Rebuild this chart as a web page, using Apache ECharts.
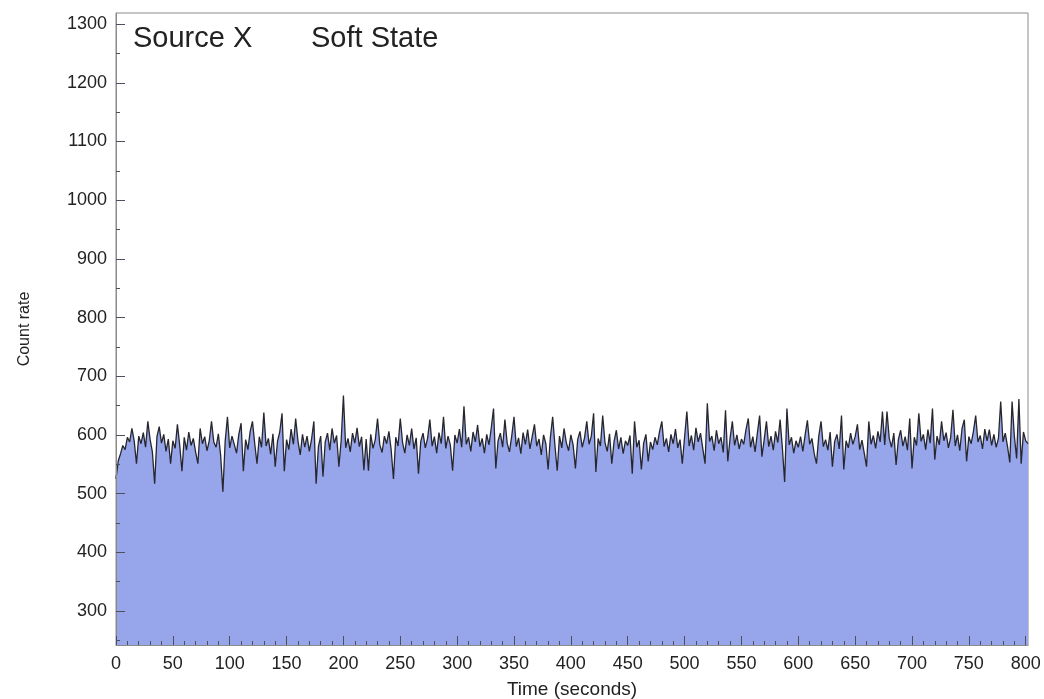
<!DOCTYPE html>
<html>
<head>
<meta charset="utf-8">
<title>Source X — Soft State light curve</title>
<script src="https://cdn.jsdelivr.net/npm/echarts@6/dist/echarts.min.js"></script>
<style>
  html, body { margin: 0; padding: 0; background: #fff; }
  #chart { width: 1044px; height: 699px; }
</style>
</head>
<body>
<div id="chart"></div>
<script>
// Light curve: count rate in 2-second bins, t = 0 ... 802 s
const binWidth = 2;
const countRate = [
  // 0 - 48 s
  525, 556, 568, 582, 575, 596, 588, 611, 590, 551, 598, 585, 604, 579, 623, 592, 571, 517, 597, 614, 586, 601, 572, 593, 551,
  // 50 - 98 s
  590, 577, 618, 583, 538, 596, 574, 605, 582, 594, 571, 551, 611, 585, 597, 573, 590, 623, 588, 579, 602, 566, 503, 589, 631,
  // 100 - 148 s
  578, 598, 584, 569, 601, 620, 538, 592, 575, 606, 623, 585, 551, 597, 579, 638, 581, 594, 567, 602, 546, 589, 605, 637, 538,
  // 150 - 198 s
  592, 575, 610, 584, 628, 590, 566, 601, 579, 598, 572, 593, 623, 517, 580, 598, 529, 588, 603, 574, 611, 586, 599, 546, 590,
  // 200 - 248 s
  667, 578, 594, 571, 603, 586, 612, 580, 597, 540, 593, 539, 601, 577, 592, 628, 583, 570, 598, 585, 606, 574, 525, 596, 581,
  // 250 - 298 s
  628, 587, 569, 600, 582, 611, 576, 595, 534, 589, 603, 578, 594, 626, 581, 597, 569, 604, 585, 631, 577, 598, 583, 539, 600,
  // 300 - 348 s
  586, 610, 579, 649, 584, 596, 572, 605, 588, 617, 580, 594, 569, 601, 583, 612, 645, 543, 590, 603, 579, 626, 586, 571, 598,
  // 350 - 398 s
  631, 580, 595, 568, 604, 584, 609, 576, 597, 618, 581, 593, 566, 600, 585, 541, 596, 631, 582, 539, 598, 578, 611, 587, 573,
  // 400 - 448 s
  600, 583, 543, 592, 606, 579, 595, 623, 584, 598, 637, 537, 594, 581, 633, 587, 572, 602, 551, 589, 608, 576, 596, 568, 590,
  // 450 - 498 s
  582, 599, 534, 623, 579, 591, 541, 586, 601, 555, 588, 575, 596, 583, 606, 623, 580, 594, 571, 601, 585, 610, 578, 592, 551,
  // 500 - 548 s
  596, 640, 581, 599, 574, 612, 588, 603, 577, 551, 654, 589, 598, 573, 608, 585, 596, 570, 642, 555, 594, 623, 582, 600, 576,
  // 550 - 598 s
  593, 584, 609, 628, 579, 597, 571, 603, 633, 563, 592, 623, 580, 598, 574, 606, 587, 626, 578, 520, 645, 583, 596, 569, 590,
  // 600 - 648 s
  579, 597, 572, 600, 625, 584, 594, 568, 551, 598, 623, 580, 592, 574, 605, 546, 589, 601, 576, 633, 541, 590, 578, 603, 584,
  // 650 - 698 s
  597, 618, 575, 591, 569, 546, 623, 584, 599, 577, 606, 588, 640, 583, 640, 594, 579, 603, 549, 592, 608, 581, 597, 574, 628,
  // 700 - 748 s
  543, 596, 582, 637, 589, 601, 575, 609, 586, 645, 558, 598, 583, 623, 590, 604, 578, 596, 643, 581, 600, 573, 611, 626, 555,
  // 750 - 798 s
  597, 585, 606, 633, 588, 599, 576, 610, 590, 609, 582, 601, 579, 594, 657, 588, 603, 580, 553, 657, 598, 560, 661, 551, 605,
  // 800 - 802 s
  590, 585
];

// Axis ranges and tick positions
const xRange = [0, 802];
const yRange = [242, 1319];
const xLabelTicks = [0, 50, 100, 150, 200, 250, 300, 350, 400, 450, 500, 550, 600, 650, 700, 750, 800];
const xMinorTicks = [10, 20, 30, 40, 60, 70, 80, 90, 110, 120, 130, 140, 160, 170, 180, 190,
  210, 220, 230, 240, 260, 270, 280, 290, 310, 320, 330, 340, 360, 370, 380, 390,
  410, 420, 430, 440, 460, 470, 480, 490, 510, 520, 530, 540, 560, 570, 580, 590,
  610, 620, 630, 640, 660, 670, 680, 690, 710, 720, 730, 740, 760, 770, 780, 790];
const yLabelTicks = [300, 400, 500, 600, 700, 800, 900, 1000, 1100, 1200, 1300];
const yMinorTicks = [250, 350, 450, 550, 650, 750, 850, 950, 1050, 1150, 1250];

const titleLeft = 'Source X';
const titleRight = 'Soft State';
const xName = 'Time (seconds)';
const yName = 'Count rate';

const seriesData = countRate.map((v, i) => [i * binWidth, v]);

const FONT = '"Liberation Sans", Arial, Helvetica, sans-serif';
const axisGray = '#8a8a8a';
const tickGray = '#4e4e5c';
const textColor = '#222';

const chart = echarts.init(document.getElementById('chart'), null, { renderer: 'canvas' });

// Both grids share the same box: grid 0 holds the data and major ticks,
// grid 1 only carries the short minor ticks.
const gridBox = { left: 116, right: 16, top: 13, bottom: 54 };
const plainLabel = v => String(v);

chart.setOption({
  animation: false,
  backgroundColor: '#fff',
  grid: [
    Object.assign({ show: true, borderColor: axisGray, borderWidth: 1, backgroundColor: 'transparent',
      containLabel: false, outerBoundsMode: 'none' }, gridBox),
    Object.assign({ show: false, containLabel: false, outerBoundsMode: 'none' }, gridBox)
  ],
  graphic: [
    { type: 'text', left: 133, top: 24, z: 10, style: { text: titleLeft, font: '29px ' + FONT, fill: textColor } },
    { type: 'text', left: 311, top: 24, z: 10, style: { text: titleRight, font: '29px ' + FONT, fill: textColor } }
  ],
  xAxis: [
    {
      gridIndex: 0, type: 'value', min: xRange[0], max: xRange[1],
      name: xName, nameLocation: 'middle', nameGap: 35,
      nameTextStyle: { fontFamily: FONT, fontSize: 19, color: textColor },
      axisLine: { show: true, lineStyle: { color: axisGray, width: 1 } },
      axisTick: { show: true, inside: true, length: 9, customValues: xLabelTicks, lineStyle: { color: tickGray, width: 1 } },
      axisLabel: { show: true, customValues: xLabelTicks, formatter: plainLabel, margin: 10, fontFamily: FONT, fontSize: 18, color: textColor },
      splitLine: { show: false },
      z: 5
    },
    {
      gridIndex: 1, type: 'value', min: xRange[0], max: xRange[1], position: 'bottom',
      axisLine: { show: false },
      axisTick: { show: true, inside: true, length: 4, customValues: xMinorTicks, lineStyle: { color: tickGray, width: 1 } },
      axisLabel: { show: false },
      splitLine: { show: false },
      z: 5
    }
  ],
  yAxis: [
    {
      gridIndex: 0, type: 'value', min: yRange[0], max: yRange[1],
      name: yName, nameLocation: 'middle', nameGap: 83, nameRotate: 90,
      nameTextStyle: { fontFamily: FONT, fontSize: 16, color: textColor },
      axisLine: { show: true, lineStyle: { color: axisGray, width: 1 } },
      axisTick: { show: true, inside: true, length: 9, customValues: yLabelTicks, lineStyle: { color: tickGray, width: 1 } },
      axisLabel: { show: true, customValues: yLabelTicks, formatter: plainLabel, margin: 9, fontFamily: FONT, fontSize: 18, color: textColor },
      splitLine: { show: false },
      z: 5
    },
    {
      gridIndex: 1, type: 'value', min: yRange[0], max: yRange[1], position: 'left',
      axisLine: { show: false },
      axisTick: { show: true, inside: true, length: 4, customValues: yMinorTicks, lineStyle: { color: tickGray, width: 1 } },
      axisLabel: { show: false },
      splitLine: { show: false },
      z: 5
    }
  ],
  series: [
    {
      type: 'line',
      xAxisIndex: 0, yAxisIndex: 0,
      data: seriesData,
      showSymbol: false,
      symbol: 'none',
      lineStyle: { color: '#26262e', width: 1.3 },
      areaStyle: { color: '#97a5ea', opacity: 1, origin: 'start' },
      z: 1
    }
  ]
});
</script>
</body>
</html>
